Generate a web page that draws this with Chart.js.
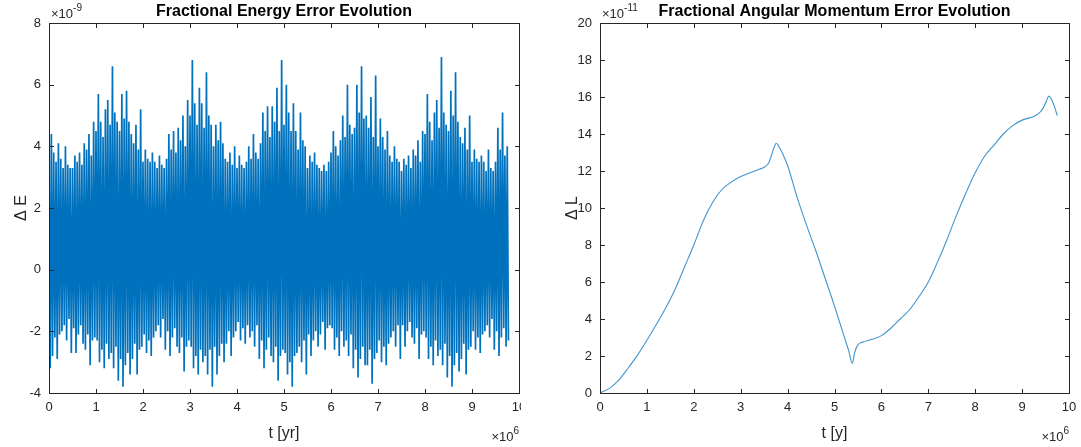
<!DOCTYPE html>
<html>
<head>
<meta charset="utf-8">
<script src="https://cdn.jsdelivr.net/npm/chart.js@4.4.1/dist/chart.umd.min.js"></script>
<style>
  html, body { margin: 0; padding: 0; background: #fff; }
  body { width: 1081px; height: 447px; position: relative; overflow: hidden; }
  canvas { position: absolute; top: 0; }
  #energyChart { left: 0; }
  #momentumChart { left: 540px; }
</style>
</head>
<body>
<canvas id="energyChart" width="521" height="447"></canvas>
<canvas id="momentumChart" width="541" height="447"></canvas>
<script>
// ΔE in units of 1e-9, one peak/trough pair per 0.05e6 yr bin (t = 0 .. 9.75e6)
const binWidth = 0.05;
const dEPeak = [
  3.6,4.4,3.8,3.5,4.1, 3.6,3.3,4.0,3.4,3.3, 3.3,3.7,3.5,3.8,3.4, 4.1,3.9,4.4,3.7,4.8,
  4.5,5.7,4.8,4.3,5.2, 5.5,4.7,6.6,5.1,4.8, 4.5,5.7,4.9,5.8,4.8, 4.4,4.1,4.7,3.9,5.2,
  3.5,3.9,3.6,3.5,3.8, 3.5,3.3,3.7,3.4,3.3, 3.6,4.4,3.9,4.5,3.8, 4.6,4.2,5.0,4.0,5.5,
  5.0,6.8,5.4,4.7,5.9, 5.4,4.6,6.4,5.0,4.7, 4.0,4.7,4.2,4.8,4.1, 3.6,3.5,3.8,3.4,4.0,
  3.3,3.7,3.4,3.3,3.5, 4.0,3.6,4.4,3.8,3.6, 4.1,5.1,4.5,5.3,4.3, 5.3,4.8,5.9,4.5,6.8,
  4.7,6.0,5.1,4.5,5.4, 4.5,3.9,5.1,4.2,4.0, 3.3,3.7,3.5,3.8,3.4, 3.3,3.2,3.4,3.2,3.5,
  3.8,4.5,4.0,3.7,4.2, 5.0,4.3,6.0,4.7,4.4, 4.6,6.0,5.1,6.6,4.9, 5.0,4.6,5.6,4.3,6.3,
  4.0,4.9,4.3,3.9,4.5, 3.7,3.5,4.0,3.6,3.5, 3.2,3.6,3.4,3.7,3.3, 3.9,3.7,4.2,3.5,4.5,
  4.4,5.7,4.8,4.2,5.1, 5.5,4.6,6.9,5.1,4.7, 4.5,5.8,5.0,6.4,4.8, 4.3,4.1,4.6,3.9,5.0,
  3.5,3.9,3.6,3.5,3.7, 3.5,3.2,3.9,3.3,3.2, 3.5,4.6,3.9,5.1,3.7, 4.0
];
const dETrough = [
  -3.2,-2.8,-2.2,-2.9,-2.1, -2.0,-1.8,-2.3,-1.6,-2.7, -1.9,-2.7,-2.1,-1.8,-2.4, -2.6,-2.1,-3.1,-2.3,-2.2,
  -2.3,-3.0,-2.6,-3.2,-2.4, -2.9,-2.7,-3.2,-2.5,-3.6, -2.9,-3.8,-3.1,-2.7,-3.4, -2.9,-2.4,-3.4,-2.6,-2.5,
  -2.1,-2.7,-2.3,-2.8,-2.2, -2.0,-1.8,-2.2,-1.6,-2.6, -2.0,-2.8,-2.2,-1.9,-2.5, -2.7,-2.2,-3.3,-2.5,-2.3,
  -2.5,-3.2,-2.8,-3.4,-2.6, -3.0,-2.8,-3.4,-2.6,-3.8, -2.5,-3.4,-2.8,-2.4,-3.0, -2.4,-2.0,-2.8,-2.2,-2.0,
  -1.7,-2.3,-1.9,-2.4,-1.8, -2.2,-2.0,-2.5,-1.8,-2.9, -2.3,-3.2,-2.6,-2.2,-2.8, -3.0,-2.5,-3.6,-2.8,-2.6,
  -2.7,-3.4,-3.0,-3.8,-2.8, -2.7,-2.5,-3.0,-2.3,-3.4, -2.1,-2.8,-2.3,-2.0,-2.5, -2.1,-1.7,-2.6,-1.9,-1.8,
  -1.9,-2.6,-2.2,-2.8,-2.0, -2.5,-2.3,-2.8,-2.1,-3.2, -2.6,-3.5,-2.9,-2.5,-3.1, -3.1,-2.6,-3.7,-2.9,-2.7,
  -2.3,-3.0,-2.5,-3.1,-2.4, -2.2,-2.0,-2.5,-1.8,-2.9, -1.8,-2.5,-2.0,-1.7,-2.2, -2.4,-1.9,-2.9,-2.1,-2.0,
  -2.2,-2.9,-2.5,-3.1,-2.3, -2.8,-2.6,-3.1,-2.4,-3.5, -2.8,-3.8,-3.1,-2.7,-3.3, -2.9,-2.4,-3.4,-2.6,-2.5,
  -2.0,-2.6,-2.2,-2.7,-2.1, -2.0,-1.8,-2.2,-1.6,-2.6, -2.0,-2.8,-2.2,-1.9,-2.5, -2.3
];

// ΔL in units of 1e-11 against t in units of 1e6 y
const tL = [0,0.2,0.4,0.6,0.8,1.0,1.2,1.4,1.6,1.8,2.0,2.2,2.4,2.6,2.8,3.0,3.2,3.4,3.5,3.6,
  3.65,3.7,3.76,3.82,3.9,4.0,4.2,4.4,4.6,4.8,5.0,5.2,5.3,5.38,5.43,5.5,5.6,5.8,6.0,6.2,
  6.4,6.6,6.8,7.0,7.2,7.4,7.6,7.8,8.0,8.2,8.4,8.6,8.8,9.0,9.2,9.35,9.45,9.52,9.57,9.62,9.7,9.75];
const dL = [0,0.25,0.7,1.35,2.05,2.85,3.7,4.6,5.6,6.8,8.0,9.3,10.3,11.0,11.4,11.7,11.9,12.1,12.2,12.45,
  12.8,13.2,13.5,13.3,12.9,12.3,10.6,9.1,7.7,6.2,4.7,3.1,2.3,1.6,2.2,2.6,2.75,2.9,3.1,3.5,
  4.0,4.5,5.2,6.0,7.1,8.3,9.6,10.8,11.9,12.8,13.4,14.0,14.45,14.75,14.9,15.1,15.4,15.8,16.05,15.9,15.4,15.0];

const timeTicks = [0,1,2,3,4,5,6,7,8,9,10];
const energyTicks = [-4,-2,0,2,4,6,8];
const momentumTicks = [0,2,4,6,8,10,12,14,16,18,20];

const FONT = '"Liberation Sans", Arial, Helvetica, sans-serif';
const AXIS_COLOR = '#262626';
const LINE_COLOR = '#0072bd';

// peak/trough pairs, trough drawn half a bin after its peak
const energyPoints = [];
dEPeak.forEach((v, i) => {
  energyPoints.push({ x: i * binWidth, y: v });
  energyPoints.push({ x: i * binWidth + binWidth / 2, y: dETrough[i] });
});
const momentumPoints = tL.map((t, i) => ({ x: t, y: dL[i] }));

function drawPower(ctx, x, baseline, exp, alignRight) {
  ctx.font = '13px ' + FONT;
  const baseW = ctx.measureText('\u00d710').width;
  ctx.font = '10px ' + FONT;
  const expW = ctx.measureText(exp).width;
  const x0 = alignRight ? x - baseW - expW : x;
  ctx.fillStyle = AXIS_COLOR;
  ctx.textAlign = 'left';
  ctx.textBaseline = 'alphabetic';
  ctx.font = '13px ' + FONT;
  ctx.fillText('\u00d710', x0, baseline);
  ctx.font = '10px ' + FONT;
  ctx.fillText(exp, x0 + baseW, baseline - 7);
}

// box, inward ticks on all four sides, titles and exponent labels
const matlabAxes = {
  id: 'matlabAxes',
  afterDraw(chart, args, opts) {
    const { ctx, chartArea: a, scales: { x, y } } = chart;
    ctx.save();
    ctx.strokeStyle = AXIS_COLOR;
    ctx.lineWidth = 1;
    ctx.strokeRect(a.left + 0.5, a.top + 0.5, a.right - a.left, a.bottom - a.top);
    const len = 4;
    ctx.beginPath();
    x.ticks.forEach(t => {
      const px = Math.round(x.getPixelForValue(t.value)) + 0.5;
      ctx.moveTo(px, a.bottom); ctx.lineTo(px, a.bottom - len);
      ctx.moveTo(px, a.top + 1); ctx.lineTo(px, a.top + 1 + len);
    });
    y.ticks.forEach(t => {
      const py = Math.round(y.getPixelForValue(t.value)) + 0.5;
      ctx.moveTo(a.left + 1, py); ctx.lineTo(a.left + 1 + len, py);
      ctx.moveTo(a.right, py); ctx.lineTo(a.right - len, py);
    });
    ctx.stroke();

    const cx = (a.left + a.right) / 2;
    ctx.fillStyle = '#000';
    ctx.textAlign = 'center';
    ctx.textBaseline = 'alphabetic';
    ctx.font = 'bold 16px ' + FONT;
    ctx.fillText(opts.title, cx, 16);

    ctx.fillStyle = AXIS_COLOR;
    ctx.font = '16px ' + FONT;
    ctx.fillText(opts.xLabel, cx, 438);

    ctx.save();
    ctx.translate(a.left - 27, (a.top + a.bottom) / 2);
    ctx.rotate(-Math.PI / 2);
    ctx.textBaseline = 'middle';
    ctx.fillText(opts.yLabel, 0, 0);
    ctx.restore();

    drawPower(ctx, a.left + 2, 18, opts.yExp, false);
    drawPower(ctx, a.right, 441, '6', true);
    ctx.restore();
  }
};

function makeChart(id, points, yTicks, dataset, frame, text) {
  return new Chart(document.getElementById(id), {
    type: 'line',
    data: {
      datasets: [Object.assign({
        data: points,
        pointRadius: 0,
        fill: false
      }, dataset)]
    },
    options: {
      responsive: false,
      animation: false,
      devicePixelRatio: 1,
      parsing: false,
      events: [],
      layout: { padding: { top: 23, right: frame.right, left: 0, bottom: 0 } },
      plugins: {
        legend: { display: false },
        tooltip: { enabled: false },
        matlabAxes: text
      },
      scales: {
        x: {
          type: 'linear', min: 0, max: 10,
          afterBuildTicks: s => { s.ticks = timeTicks.map(v => ({ value: v })); },
          afterFit: s => { s.height = 54; s.paddingLeft = 0; s.paddingRight = 0; },
          grid: { display: false, drawTicks: false },
          border: { display: false },
          ticks: {
            color: AXIS_COLOR, font: { family: FONT, size: 13 },
            padding: 7, maxRotation: 0, autoSkip: false
          }
        },
        y: {
          type: 'linear', min: yTicks[0], max: yTicks[yTicks.length - 1],
          afterBuildTicks: s => { s.ticks = yTicks.map(v => ({ value: v })); },
          afterFit: s => { s.width = frame.left; s.paddingTop = 0; s.paddingBottom = 0; },
          grid: { display: false, drawTicks: false },
          border: { display: false },
          ticks: {
            color: AXIS_COLOR, font: { family: FONT, size: 13 },
            padding: 8, autoSkip: false
          }
        }
      }
    },
    plugins: [matlabAxes]
  });
}

makeChart('energyChart', energyPoints, energyTicks,
  { borderColor: LINE_COLOR, borderWidth: 1.7, tension: 0 },
  { left: 49, right: 2 },
  { title: 'Fractional Energy Error Evolution', xLabel: 't [yr]', yLabel: '\u0394 E', yExp: '-9' });

makeChart('momentumChart', momentumPoints, momentumTicks,
  { borderColor: 'rgba(0,114,189,0.75)', borderWidth: 1.1, cubicInterpolationMode: 'monotone' },
  { left: 60, right: 12 },
  { title: 'Fractional Angular Momentum Error Evolution', xLabel: 't [y]', yLabel: '\u0394 L', yExp: '-11' });
</script>
</body>
</html>
